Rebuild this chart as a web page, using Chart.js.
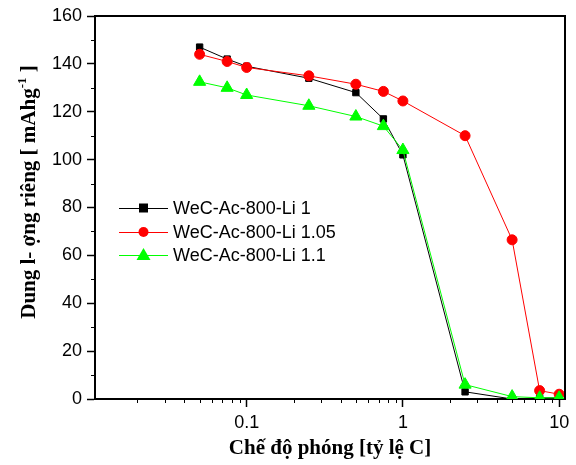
<!DOCTYPE html>
<html>
<head>
<meta charset="utf-8">
<script src="https://cdn.jsdelivr.net/npm/chart.js@4.4.0/dist/chart.umd.min.js"></script>
<style>
  html, body { margin: 0; padding: 0; background: #fff; }
  #wrap { width: 576px; height: 465px; }
</style>
</head>
<body>
<div id="wrap"><canvas id="c"></canvas></div>
<script>
"use strict";

// tốc độ phóng (C-rate)
var rates = [0.05, 0.075, 0.1, 0.25, 0.5, 0.75, 1, 2.5, 5, 7.5, 10];

var li100 = [147, 142, 139, 134, 128, 117, 102, 3, 0, 0.5, 0.5];
var li105 = [144, 141, 138.5, 135, 131.5, 128.5, 124.5, 110, 66.5, 3.5, 2];
var li110 = [132.5, 130, 127, 122.5, 118, 114, 104, 6, 1, 0.5, 0.5];

var labels = ['WeC-Ac-800-Li 1', 'WeC-Ac-800-Li 1.05', 'WeC-Ac-800-Li 1.1'];

var xMajor = [0.1, 1, 10];
var xMinor = [0.02, 0.03, 0.04, 0.05, 0.06, 0.07, 0.08, 0.09,
              0.2, 0.3, 0.4, 0.5, 0.6, 0.7, 0.8, 0.9,
              2, 3, 4, 5, 6, 7, 8, 9];
var yMinor = [10, 30, 50, 70, 90, 110, 130, 150];

function pts(ys) {
  return rates.map(function (x, i) { return { x: x, y: ys[i] }; });
}

var SANS = "'Liberation Sans', Arial, sans-serif";
var SERIF = "'Liberation Serif', 'Times New Roman', serif";

/* ticks phụ + khung trên/phải + chú thích + tiêu đề trục y */
var extras = {
  id: 'extras',
  afterDraw: function (chart) {
    var ctx = chart.ctx, a = chart.chartArea;
    var sx = chart.scales.x, sy = chart.scales.y;
    ctx.save();
    ctx.strokeStyle = '#000';
    ctx.lineWidth = 1;
    ctx.beginPath();
    xMinor.forEach(function (v) {
      var px = Math.round(sx.getPixelForValue(v)) + 0.5;
      ctx.moveTo(px, a.bottom); ctx.lineTo(px, a.bottom + 4);
    });
    yMinor.forEach(function (v) {
      var py = Math.round(sy.getPixelForValue(v)) + 0.5;
      ctx.moveTo(a.left, py); ctx.lineTo(a.left - 4, py);
    });
    ctx.stroke();

    ctx.lineWidth = 2;
    ctx.beginPath();
    ctx.moveTo(a.left, a.top); ctx.lineTo(a.right, a.top); ctx.lineTo(a.right, a.bottom);
    ctx.stroke();

    // chú thích
    var x0 = 119, x1 = 168, rows = [208, 232, 255];
    chart.data.datasets.forEach(function (ds, i) {
      var y = rows[i];
      ctx.strokeStyle = ds.borderColor;
      ctx.lineWidth = 1;
      ctx.beginPath(); ctx.moveTo(x0, y + 0.5); ctx.lineTo(x1, y + 0.5); ctx.stroke();
      ctx.fillStyle = ds.pointBackgroundColor;
      var cx = (x0 + x1) / 2;
      ctx.beginPath();
      if (ds.pointStyle === 'rect') {
        ctx.rect(cx - 4.5, y - 4.5, 9, 9);
      } else if (ds.pointStyle === 'circle') {
        ctx.arc(cx, y, 5, 0, Math.PI * 2);
      } else {
        ctx.moveTo(cx, y - 7); ctx.lineTo(cx + 7, y + 5); ctx.lineTo(cx - 7, y + 5); ctx.closePath();
      }
      ctx.fill();
      ctx.fillStyle = '#000';
      ctx.font = '18px ' + SANS;
      ctx.textBaseline = 'middle';
      ctx.fillText(ds.label, 173, y + 1);
    });

    // tiêu đề trục y (có chỉ số trên)
    var main = 'Dung l- ợng riêng [ mAhg', sup = '-1', tail = ' ]';
    var fMain = 'bold 21px ' + SERIF, fSup = 'bold 13px ' + SERIF;
    ctx.font = fMain;
    var w1 = ctx.measureText(main).width, w3 = ctx.measureText(tail).width;
    ctx.font = fSup;
    var w2 = ctx.measureText(sup).width;
    var total = w1 + w2 + w3;
    ctx.translate(35, 192);
    ctx.rotate(-Math.PI / 2);
    ctx.fillStyle = '#000';
    ctx.textBaseline = 'alphabetic';
    ctx.textAlign = 'left';
    var sx0 = -total / 2;
    ctx.font = fMain; ctx.fillText(main, sx0, 0);
    ctx.font = fSup; ctx.fillText(sup, sx0 + w1, -9);
    ctx.font = fMain; ctx.fillText(tail, sx0 + w1 + w2, 0);
    ctx.restore();
  }
};

new Chart(document.getElementById('c'), {
  type: 'line',
  data: {
    datasets: [
      { label: labels[0], data: pts(li100), borderColor: '#000000', pointBackgroundColor: '#000000',
        pointBorderColor: '#000000', pointStyle: 'rect', pointRadius: 4.5, borderWidth: 1, order: 2 },
      { label: labels[1], data: pts(li105), borderColor: '#ff0000', pointBackgroundColor: '#ff0000',
        pointBorderColor: '#ff0000', pointStyle: 'circle', pointRadius: 5, borderWidth: 1, order: 1 },
      { label: labels[2], data: pts(li110), borderColor: '#00ff00', pointBackgroundColor: '#00ff00',
        pointBorderColor: '#00ff00', pointStyle: 'triangle', pointRadius: 7, borderWidth: 1, order: 0 }
    ]
  },
  options: {
    responsive: true,
    maintainAspectRatio: false,
    animation: false,
    layout: { padding: { top: 16, right: 11, left: 0, bottom: 0 } },
    plugins: { legend: { display: false }, tooltip: { enabled: false } },
    elements: { line: { tension: 0 }, point: { borderWidth: 0 } },
    scales: {
      x: {
        type: 'logarithmic',
        min: 0.0107,
        max: 10.9,
        afterBuildTicks: function (s) {
          s.ticks = xMajor.map(function (v) { return { value: v, major: true }; });
        },
        afterFit: function (s) { s.height = 66; },
        border: { display: true, color: '#000', width: 2 },
        grid: { drawOnChartArea: false, color: '#000', tickLength: 8, tickWidth: 1.5 },
        ticks: {
          color: '#000', font: { family: SANS, size: 18 }, padding: 5,
          maxRotation: 0, autoSkip: false,
          callback: function (v) { return String(v); }
        },
        title: {
          display: true, text: 'Chế độ phóng [tỷ lệ C]', color: '#000',
          font: { family: SERIF, size: 21, weight: 'bold' }, padding: { top: 6 }
        }
      },
      y: {
        min: 0,
        max: 160,
        afterFit: function (s) { s.width = 95; },
        border: { display: true, color: '#000', width: 2 },
        grid: { drawOnChartArea: false, color: '#000', tickLength: 8, tickWidth: 1.5 },
        ticks: { stepSize: 20, color: '#000', font: { family: SANS, size: 18 }, padding: 5 },
        title: { display: false }
      }
    }
  },
  plugins: [extras]
});
</script>
</body>
</html>
